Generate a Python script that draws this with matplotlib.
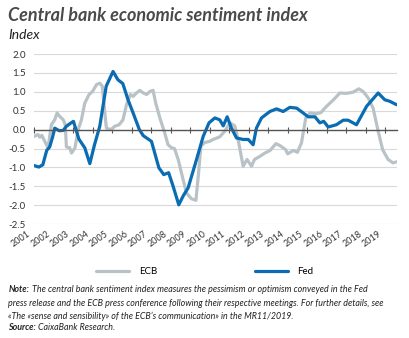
import matplotlib
matplotlib.use("Agg")
import matplotlib.pyplot as plt
import matplotlib.transforms as mtransforms

plt.rcParams['font.family'] = ['Lato', 'DejaVu Sans']

# data (decimal years, index values)
fed_t = [2001.0, 2001.25, 2001.45, 2001.65, 2001.8, 2001.95, 2002.06, 2002.3, 2002.5, 2002.66,
         2002.9, 2003.02, 2003.3, 2003.6, 2003.86, 2004.1, 2004.37, 2004.7, 2005.05, 2005.3,
         2005.55, 2005.82, 2006.08, 2006.4, 2006.6, 2007.02, 2007.4, 2007.65, 2007.9, 2008.13,
         2008.42, 2008.64, 2008.9, 2009.33, 2009.67, 2009.97, 2010.27, 2010.52, 2010.7, 2010.9,
         2011.12, 2011.38, 2011.72, 2011.98, 2012.23, 2012.4, 2012.66, 2013.09, 2013.43, 2013.77,
         2014.11, 2014.46, 2014.8, 2015.05, 2015.4, 2015.65, 2015.85, 2016.08, 2016.5, 2016.85,
         2017.1, 2017.53, 2018.05, 2018.64, 2018.98, 2019.24, 2019.58]
fed_v = [-0.95, -0.99, -0.93, -0.55, -0.46, -0.2, 0.04, -0.03, -0.02, 0.09,
         0.18, 0.22, -0.25, -0.48, -0.9, -0.4, 0.09, 1.15, 1.54, 1.32,
         1.22, 0.79, 0.44, 0.0, -0.16, -0.31, -1.01, -1.19, -1.14, -1.5,
         -1.99, -1.76, -1.54, -0.79, -0.18, 0.18, 0.31, 0.26, 0.1, 0.34,
         0.04, -0.22, -0.26, -0.26, -0.4, 0.04, 0.31, 0.48, 0.55, 0.48,
         0.59, 0.57, 0.44, 0.34, 0.34, 0.18, 0.22, 0.07, 0.13, 0.25,
         0.25, 0.13, 0.62, 0.97, 0.79, 0.75, 0.66]

ecb_t = [2001.0, 2001.2, 2001.3, 2001.4, 2001.55, 2001.72, 2001.89, 2002.06, 2002.18, 2002.32,
         2002.5, 2002.6, 2002.66, 2002.83, 2002.92, 2003.1, 2003.26, 2003.43, 2003.6, 2003.82,
         2004.0, 2004.2, 2004.37, 2004.5, 2004.63, 2004.71, 2004.94, 2005.14, 2005.36, 2005.56,
         2005.74, 2005.94, 2006.08, 2006.25, 2006.42, 2006.6, 2006.77, 2006.94, 2007.1, 2007.24,
         2007.45, 2007.7, 2007.87, 2008.05, 2008.2, 2008.39, 2008.64, 2008.82, 2009.07, 2009.3,
         2009.45, 2009.55, 2009.75, 2010.0, 2010.18, 2010.52, 2010.78, 2011.04, 2011.29, 2011.46,
         2011.72, 2011.92, 2012.15, 2012.3, 2012.57, 2012.83, 2013.1, 2013.4, 2013.6, 2013.9,
         2014.0, 2014.3, 2014.5, 2014.71, 2014.93, 2015.14, 2015.48, 2015.7, 2016.0, 2016.33,
         2016.68, 2017.0, 2017.35, 2017.65, 2017.87, 2018.13, 2018.38, 2018.64, 2018.87, 2019.15,
         2019.4, 2019.6]
ecb_v = [-0.18, -0.13, -0.2, -0.15, -0.31, -0.48, 0.13, 0.26, 0.44, 0.35,
         0.26, 0.13, -0.46, -0.48, -0.62, -0.48, 0.0, 0.26, 0.7, 0.93,
         1.01, 1.19, 1.23, 1.15, 0.44, 0.04, 0.0, 0.09, 0.13, 0.26,
         0.66, 0.93, 0.88, 0.97, 1.04, 0.97, 0.93, 1.01, 1.04, 0.7,
         0.31, -0.09, -0.4, -0.48, -0.5, -0.79, -1.32, -1.68, -1.83, -1.87,
         -1.06, -0.44, -0.34, -0.31, -0.26, -0.19, -0.04, 0.18, 0.1, -0.26,
         -0.97, -0.79, -0.97, -0.79, -0.71, -0.62, -0.55, -0.37, -0.42, -0.53,
         -0.64, -0.55, -0.6, -0.35, 0.31, 0.44, 0.42, 0.45, 0.62, 0.78,
         0.97, 0.96, 0.99, 1.08, 1.01, 0.84, 0.57, -0.04, -0.53, -0.79,
         -0.88, -0.85]

years = list(range(2001, 2020))
yticks = [2.0, 1.5, 1.0, 0.5, 0.0, -0.5, -1.0, -1.5, -2.0, -2.5]

fig = plt.figure(figsize=(4.1, 3.38), dpi=100)
ax = fig.add_axes([0.083, 0.337, 0.885, 0.503])

ax.plot(ecb_t, ecb_v, color='#b9c3c7', lw=2.3, label='ECB', solid_capstyle='round')
ax.plot(fed_t, fed_v, color='#0a6cb3', lw=2.3, label='Fed', solid_capstyle='round')

ax.set_xlim(2001, 2019.6)
ax.set_ylim(-2.5, 2.0)
ax.set_yticks(yticks)
ax.set_yticklabels(['%.1f' % v for v in yticks])
ax.yaxis.grid(True, color='#d9d9d9', lw=0.8)
ax.set_axisbelow(True)
ax.tick_params(axis='y', length=0, labelsize=7, labelcolor='#333333', pad=6)
for s in ['top', 'right', 'left']:
    ax.spines[s].set_visible(False)

# zero line with year ticks
ax.spines['bottom'].set_position(('data', 0))
ax.spines['bottom'].set_color('#555555')
ax.spines['bottom'].set_linewidth(1.0)
ax.set_xticks(years)
ax.tick_params(axis='x', direction='inout', length=5, width=0.8, color='#555555',
               labelbottom=False)

sec = ax.secondary_xaxis('bottom')
sec.set_xticks(years)
sec.set_xticklabels([str(y) for y in years], rotation=35, ha='right', fontsize=6.5,
                    color='#333333')
sec.tick_params(length=0, pad=4)
sec.spines['bottom'].set_visible(False)
off = mtransforms.ScaledTranslation(-2 / 100, 0, fig.dpi_scale_trans)
for lab in sec.get_xticklabels():
    lab.set_transform(lab.get_transform() + off)

fig.text(0.02, 0.955, 'Central bank economic sentiment index', fontsize=13,
         fontweight='bold', fontstyle='italic', color='#4a4a4a', va='center')
fig.text(0.02, 0.895, 'Index', fontsize=10, fontstyle='italic', color='#222222', va='center')

fig.legend(loc='center', bbox_to_anchor=(0.5, 0.197), ncol=2, frameon=False,
           fontsize=7, handlelength=3.4, columnspacing=10, handletextpad=1.0)

note = ['The central bank sentiment index measures the pessimism or optimism conveyed in the Fed',
        'press release and the ECB press conference following their respective meetings. For further details, see',
        '«The «sense and sensibility» of the ECB\u2019s communication» in the MR11/2019.']
fs = 6.4
fig.canvas.draw()
r = fig.canvas.get_renderer()
t = fig.text(0.02, 1 - 290 / 338, 'Note:', fontsize=fs, fontweight='bold',
             fontstyle='italic', color='#222222', va='center')
w = t.get_window_extent(r).width / fig.bbox.width
fig.text(0.02 + w + 0.006, 1 - 290 / 338, note[0], fontsize=fs, fontstyle='italic',
         color='#222222', va='center')
fig.text(0.02, 1 - 303 / 338, note[1], fontsize=fs, fontstyle='italic', color='#222222',
         va='center')
fig.text(0.02, 1 - 316 / 338, note[2], fontsize=fs, fontstyle='italic', color='#222222',
         va='center')
t = fig.text(0.02, 1 - 328 / 338, 'Source:', fontsize=fs, fontweight='bold',
             fontstyle='italic', color='#222222', va='center')
w = t.get_window_extent(r).width / fig.bbox.width
fig.text(0.02 + w + 0.006, 1 - 328 / 338, 'CaixaBank Research.', fontsize=fs,
         fontstyle='italic', color='#222222', va='center')

fig.savefig('out.png', dpi=100)
